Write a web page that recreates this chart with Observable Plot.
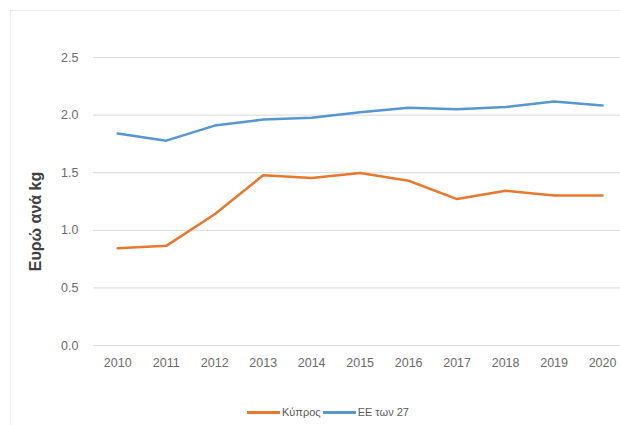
<!DOCTYPE html>
<html><head><meta charset="utf-8">
<script src="https://cdn.jsdelivr.net/npm/d3@7"></script>
<script src="https://cdn.jsdelivr.net/npm/@observablehq/plot@0.6"></script>
<style>
body{margin:0;background:#fff;font-family:"Liberation Sans",Arial,sans-serif;}
#wrap{position:relative;width:620px;height:425px;overflow:hidden;background:#fff;}
#frame{position:absolute;left:10px;top:10px;width:640px;height:440px;border:1px solid #ececec;}
#chart{position:absolute;left:0;top:0;}
#legend{position:absolute;top:405px;left:247px;display:flex;align-items:center;font-size:11px;color:#595959;line-height:14px;}
.sw{display:inline-block;width:33px;height:3px;margin-right:2px;}
.lab{margin-right:2px;}
</style></head>
<body><div id="wrap"><div id="frame"></div><div id="chart"></div><div id="legend"></div></div>
<script>
const years = [2010, 2011, 2012, 2013, 2014, 2015, 2016, 2017, 2018, 2019, 2020];
const cyprus = [0.845, 0.865, 1.14, 1.477, 1.455, 1.497, 1.43, 1.271, 1.343, 1.303, 1.303];
const eu27 = [1.84, 1.778, 1.909, 1.961, 1.976, 2.025, 2.063, 2.05, 2.071, 2.118, 2.083];
const yTicks = [0, 0.5, 1, 1.5, 2, 2.5];
const seriesNames = ["Κύπρος", "ΕΕ των 27"];
const seriesColors = ["#E9782F", "#5597D2"];
const yTitle = "Ευρώ ανά kg";

const rows = years.flatMap((yr, i) => [
  {year: yr, value: cyprus[i], series: seriesNames[0]},
  {year: yr, value: eu27[i], series: seriesNames[1]}
]);

const chart = Plot.plot({
  width: 620,
  height: 385,
  marginLeft: 93,
  marginRight: 0,
  marginTop: 57,
  marginBottom: 40,
  style: {fontFamily: "'Liberation Sans', Arial, sans-serif", fontSize: "12.5px", color: "#666", background: "transparent"},
  x: {domain: [2009.5, 2020.37], axis: null},
  y: {domain: [0, 2.5], axis: null},
  color: {domain: seriesNames, range: seriesColors},
  marks: [
    Plot.ruleY(yTicks, {stroke: "#d9d9d9", strokeWidth: 1}),
    Plot.axisY(yTicks, {tickSize: 0, tickPadding: 15, tickFormat: d => d.toFixed(1), label: null, fill: "#6a6a6a"}),
    Plot.axisX(years, {tickSize: 0, tickPadding: 13, tickFormat: d => String(d), label: null, fill: "#6a6a6a"}),
    Plot.lineY(rows, {x: "year", y: "value", stroke: "series", strokeWidth: 2.5}),
    Plot.text([yTitle], {text: d => d, frameAnchor: "left", textAnchor: "middle", rotate: -90, dx: -58, dy: 20, fontWeight: "bold", fontSize: 16, fill: "#404040"})
  ]
});
document.getElementById("chart").appendChild(chart);

const legend = d3.select("#legend");
seriesNames.forEach((name, i) => {
  legend.append("span").attr("class", "sw").style("background", seriesColors[i]);
  legend.append("span").attr("class", "lab").text(name);
});
</script>
</body></html>
